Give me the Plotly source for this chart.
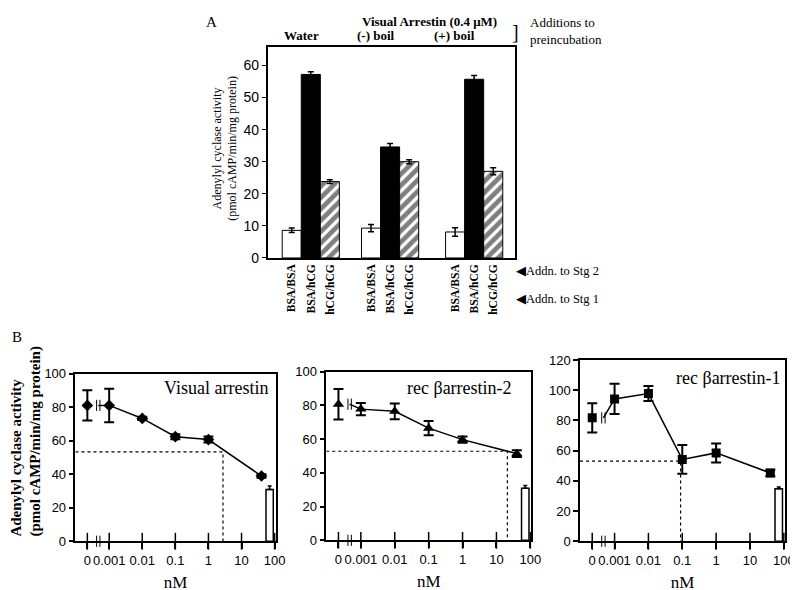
import numpy as np
import plotly.graph_objects as go

W, H = 798, 590
def px(x):
    return x / W
def py(y):
    return 1 - y / H

SERIF = "Liberation Serif"
SANS = "Liberation Sans"

# ---------------- Panel A data ----------------
stage_labels = ["BSA/BSA", "BSA/hCG", "hCG/hCG"]
preinc_groups = ["Water", "(-) boil", "(+) boil"]
water_vals = [8.6, 57.2, 23.8]
water_err = [0.7, 0.8, 0.6]
minus_boil_vals = [9.3, 34.6, 30.0]
minus_boil_err = [1.1, 1.1, 0.6]
plus_boil_vals = [8.1, 55.7, 27.0]
plus_boil_err = [1.3, 1.2, 1.1]
a_yticks = [0, 10, 20, 30, 40, 50, 60]

# ---------------- Panel B data ----------------
conc_nM = [0, 0.001, 0.01, 0.1, 1, 40]
conc_ticks = [0, 0.001, 0.01, 0.1, 1, 10, 100]
conc_ticktext = ["0", "0.001", "0.01", "0.1", "1", "10", "100"]
visual_vals = [81.2, 81.2, 73.4, 62.5, 60.8, 39.0]
visual_err = [9.0, 10.0, 1.0, 1.5, 1.8, 1.0]
barr2_vals = [80.7, 77.8, 76.5, 66.5, 59.7, 51.4]
barr2_err = [9.0, 3.6, 4.7, 4.2, 1.8, 2.0]
barr1_vals = [81.7, 94.2, 97.8, 54.2, 58.5, 45.2]
barr1_err = [9.7, 10.0, 5.0, 9.5, 6.3, 2.2]
control_vals = [31.0, 30.8, 34.8]
control_err = [2.0, 1.7, 1.2]
half_max_vals = [53.4, 52.8, 53.1]
half_max_nM = [2.75, 21.0, 0.089]
panel_titles = ["Visual arrestin", "rec \u03b2arrestin-2", "rec \u03b2arrestin-1"]
panel_symbols = ["diamond", "triangle-up", "square"]

# layout constants (log10 display positions)
ZERO_POS = -3.66
BREAK_POS = -3.33
BREAK_GAP = 0.05
CONTROL_POS = 1.85
XRANGE = [-4.02, 2.03]

def xpos(c):
    return ZERO_POS if c == 0 else float(np.log10(c))

fig = go.Figure()

# ---------------- Panel A ----------------
group_start = [0.76, 4.92, 9.33]
a_vals = [water_vals, minus_boil_vals, plus_boil_vals]
a_errs = [water_err, minus_boil_err, plus_boil_err]
stage_styles = [
    dict(color="white"),
    dict(color="black"),
    dict(color="white", pattern=dict(shape="/", fgcolor="black", bgcolor="white", size=8, solidity=0.6)),
]
a_tickvals, a_ticktext = [], []
for g in range(3):
    for i in range(3):
        a_tickvals.append(group_start[g] + i + 0.5)
        a_ticktext.append("<b>%s</b>" % stage_labels[i])
for i in range(3):
    fig.add_trace(go.Bar(
        x=[group_start[g] + i + 0.5 for g in range(3)],
        y=[a_vals[g][i] for g in range(3)],
        width=1.0,
        marker=dict(line=dict(color="black", width=1), **stage_styles[i]),
        error_y=dict(type="data", array=[a_errs[g][i] for g in range(3)],
                     color="black", thickness=1.5, width=3),
        xaxis="x", yaxis="y", showlegend=False, hoverinfo="skip",
    ))

# ---------------- Panel B ----------------
series = [(visual_vals, visual_err), (barr2_vals, barr2_err), (barr1_vals, barr1_err)]
for k, (vals, errs) in enumerate(series):
    xa = "x%d" % (k + 2)
    ya = "y%d" % (k + 2)
    # control open bar
    fig.add_trace(go.Bar(
        x=[CONTROL_POS], y=[control_vals[k]], width=0.22,
        marker=dict(color="white", line=dict(color="black", width=1.5)),
        error_y=dict(type="data", symmetric=False, array=[control_err[k]], arrayminus=[0],
                     color="black", thickness=1.5, width=2),
        xaxis=xa, yaxis=ya, showlegend=False, hoverinfo="skip",
    ))
    # half-max dotted guide
    hx = float(np.log10(half_max_nM[k]))
    fig.add_trace(go.Scatter(
        x=[XRANGE[0], hx, hx], y=[half_max_vals[k], half_max_vals[k], 0],
        mode="lines", line=dict(color="black", width=1.2, dash="dot"),
        xaxis=xa, yaxis=ya, showlegend=False, hoverinfo="skip",
    ))
    # connecting line (starts at the axis break)
    fig.add_trace(go.Scatter(
        x=[BREAK_POS] + [xpos(c) for c in conc_nM[1:]],
        y=[vals[0]] + vals[1:],
        mode="lines", line=dict(color="black", width=1.5),
        xaxis=xa, yaxis=ya, showlegend=False, hoverinfo="skip",
    ))
    # points with error bars
    fig.add_trace(go.Scatter(
        x=[xpos(c) for c in conc_nM], y=vals, mode="markers",
        marker=dict(symbol=panel_symbols[k], color="black", size=9 if k != 1 else 10),
        error_y=dict(type="data", array=errs, color="black", thickness=2, width=5),
        xaxis=xa, yaxis=ya, showlegend=False, hoverinfo="skip",
    ))
    # crossing tick marks on x axis
    fig.add_trace(go.Scatter(
        x=[xpos(c) for c in conc_ticks], y=[0] * len(conc_ticks), mode="markers",
        marker=dict(symbol="line-ns", size=12, color="black", line=dict(color="black", width=1.5)),
        cliponaxis=False, xaxis=xa, yaxis=ya, showlegend=False, hoverinfo="skip",
    ))
    # break marks (double bars on the axis and on the line start)
    bx = [BREAK_POS - BREAK_GAP, BREAK_POS + BREAK_GAP] * 2
    by = [0, 0, vals[0], vals[0]]
    fig.add_trace(go.Scatter(
        x=bx, y=by, mode="markers",
        marker=dict(symbol="line-ns", size=8, color="black", line=dict(color="black", width=1)),
        cliponaxis=False, xaxis=xa, yaxis=ya, showlegend=False, hoverinfo="skip",
    ))

axis_common = dict(showline=True, linecolor="black", linewidth=1.5, mirror=True,
                   showgrid=False, zeroline=False, tickcolor="black")

layout = dict(
    width=W, height=H, margin=dict(l=0, r=0, t=0, b=0),
    paper_bgcolor="white", plot_bgcolor="white", barmode="overlay",
    showlegend=False,
    xaxis=dict(domain=[px(263), px(513)], range=[0, 12.95], anchor="y",
               tickvals=a_tickvals, ticktext=a_ticktext, tickangle=-90, ticks="",
               tickfont=dict(family=SERIF, size=11.5, color="black"), **axis_common),
    yaxis=dict(domain=[py(249.3), py(33)], range=[0, 65.7], anchor="x",
               tickvals=a_yticks, ticks="outside", ticklen=4,
               tickfont=dict(family=SANS, size=14, color="black"), **axis_common),
)
b_dom_x = [(68.3, 271), (322.3, 530), (579.3, 786.7)]
b_dom_y = [(540, 368.3), (539, 366), (540, 354)]
b_yrange = [100, 100, 120]
for k in range(3):
    n = k + 2
    layout["xaxis%d" % n] = dict(
        domain=[px(b_dom_x[k][0]), px(b_dom_x[k][1])], range=XRANGE, anchor="y%d" % n,
        tickvals=[xpos(c) for c in conc_ticks], ticktext=conc_ticktext, tickangle=0,
        ticks="outside", ticklen=6, tickwidth=1.5,
        tickfont=dict(family=SANS, size=13, color="black"),
        title=dict(text="nM", font=dict(family=SERIF, size=17, color="black"), standoff=9),
        **axis_common)
    layout["yaxis%d" % n] = dict(
        domain=[py(b_dom_y[k][0]), py(b_dom_y[k][1])], range=[0, b_yrange[k]], anchor="x%d" % n,
        dtick=20, ticks="outside", ticklen=5, tickwidth=1.5,
        tickfont=dict(family=SANS, size=13, color="black"), **axis_common)
fig.update_layout(**layout)

def ann(text, x, y, size=13, xanchor="center", yanchor="middle", bold=False, family=SERIF,
        textangle=0, align="center"):
    fig.add_annotation(
        text="<b>%s</b>" % text if bold else text, x=px(x), y=py(y), xref="paper", yref="paper",
        showarrow=False, xanchor=xanchor, yanchor=yanchor, textangle=textangle, align=align,
        font=dict(family=family, size=size, color="black"))

ann("A", 206, 7, size=15)
ann("B", 9, 330, size=15)
ann("Visual Arrestin (0.4 \u03bcM)", 427, 7, bold=True)
ann(preinc_groups[0], 297, 21, bold=True)
ann(preinc_groups[1], 373, 21, bold=True)
ann(preinc_groups[2], 452, 21, bold=True)
ann("]", 514, 17, size=20)
ann("Additions to<br>preincubation", 527, 16, size=13, xanchor="left", align="left")
ann("\u25c0Addn. to Stg 2", 512, 263, size=12.5, xanchor="left")
ann("\u25c0Addn. to Stg 1", 512, 291, size=12.5, xanchor="left")
ann("Adenylyl cyclase activity<br>(pmol cAMP/min/mg protein)", 219, 137, size=12, textangle=-90)
ann("Adenylyl cyclase activity<br>(pmol cAMP/min/mg protein)", 19, 537, size=15, bold=True,
    textangle=-90, yanchor="bottom", align="left")
title_pos = [(265, 383), (512, 383), (785, 372)]
for k in range(3):
    ann(panel_titles[k], title_pos[k][0], title_pos[k][1], size=18, xanchor="right")

fig.write_html("out.html")
